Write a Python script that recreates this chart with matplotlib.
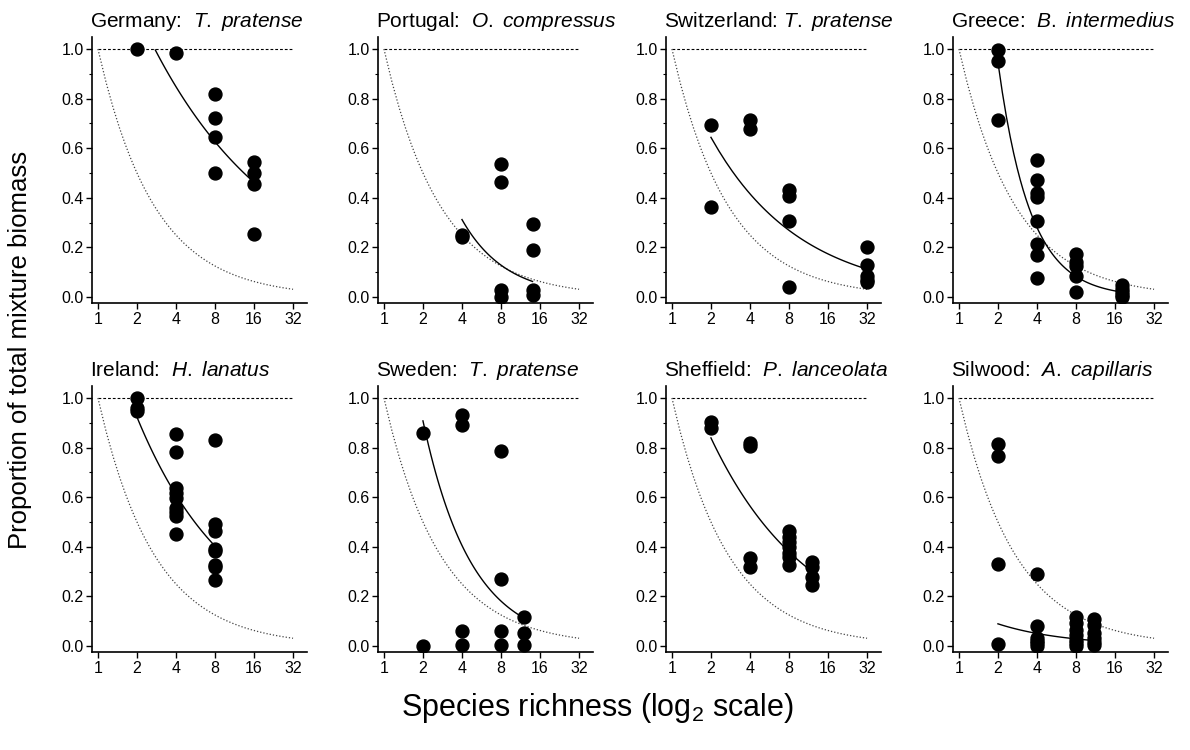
import matplotlib
matplotlib.use('Agg')
import matplotlib.pyplot as plt
import numpy as np

plt.rcParams['font.family'] = ['Liberation Sans', 'DejaVu Sans']
plt.rcParams['mathtext.fontset'] = 'custom'
plt.rcParams['mathtext.rm'] = 'Liberation Sans'
plt.rcParams['mathtext.it'] = 'Liberation Sans:italic'

sites = ['Germany', 'Portugal', 'Switzerland', 'Greece',
         'Ireland', 'Sweden', 'Sheffield', 'Silwood']
species = ['T. pratense', 'O. compressus', 'T. pratense', 'B. intermedius',
           'H. lanatus', 'T. pratense', 'P. lanceolata', 'A. capillaris']
seps = ['  ', '  ', ' ', '  ', '  ', '  ', '  ', '  ']

# observed proportions (richness, proportion)
germany_x = [2, 4, 8, 8, 8, 8, 16, 16, 16, 16]
germany_y = [1.0, 0.985, 0.818, 0.721, 0.644, 0.501, 0.546, 0.50, 0.457, 0.255]
portugal_x = [4, 4, 8, 8, 8, 8, 14, 14, 14, 14]
portugal_y = [0.25, 0.24, 0.538, 0.462, 0.03, 0.0, 0.294, 0.189, 0.03, 0.007]
swiss_x = [2, 2, 4, 4, 8, 8, 8, 8, 32, 32, 32, 32, 32]
swiss_y = [0.695, 0.364, 0.714, 0.679, 0.431, 0.407, 0.305, 0.04,
           0.202, 0.128, 0.085, 0.07, 0.06]
greece_x = [2, 2, 2, 4, 4, 4, 4, 4, 4, 4, 4, 8, 8, 8, 8, 8, 18, 18, 18, 18, 18]
greece_y = [0.995, 0.95, 0.712, 0.551, 0.47, 0.42, 0.404, 0.306, 0.213, 0.168, 0.078,
            0.172, 0.14, 0.125, 0.086, 0.02, 0.047, 0.034, 0.02, 0.01, 0.0]
ireland_x = [2, 2, 2, 4, 4, 4, 4, 4, 4, 4, 4, 4, 8, 8, 8, 8, 8, 8, 8, 8]
ireland_y = [1.0, 0.96, 0.946, 0.856, 0.783, 0.636, 0.616, 0.596, 0.556, 0.542, 0.525, 0.451,
             0.832, 0.49, 0.462, 0.393, 0.384, 0.327, 0.32, 0.266]
sweden_x = [2, 2, 4, 4, 4, 4, 8, 8, 8, 8, 12, 12, 12]
sweden_y = [0.859, 0.0, 0.933, 0.892, 0.059, 0.003, 0.787, 0.27, 0.059, 0.003,
            0.116, 0.054, 0.003]
sheffield_x = [2, 2, 4, 4, 4, 4, 8, 8, 8, 8, 8, 8, 8, 12, 12, 12, 12]
sheffield_y = [0.902, 0.879, 0.818, 0.807, 0.354, 0.32, 0.462, 0.441, 0.42, 0.40,
               0.374, 0.36, 0.327, 0.34, 0.318, 0.28, 0.246]
silwood_x = [2, 2, 2, 2, 4, 4, 4, 4, 4, 4, 8, 8, 8, 8, 8, 8, 8,
             11, 11, 11, 11, 11, 11]
silwood_y = [0.814, 0.767, 0.331, 0.007, 0.291, 0.082, 0.031, 0.02, 0.013, 0.0,
             0.116, 0.092, 0.065, 0.044, 0.024, 0.013, 0.0,
             0.109, 0.085, 0.051, 0.031, 0.015, 0.004]

# points
fit_xs = [[2.77, 8, 16], [4, 8, 14], [2, 11.6, 32], [2, 4, 18],
          [2, 4, 8], [2, 8, 12], [2, 8, 12], [2, 4, 11]]
fit_ys = [[1.0, 0.62, 0.465], [0.313, 0.128, 0.063], [0.636, 0.22, 0.11], [0.94, 0.283, 0.02],
          [0.926, 0.606, 0.404], [0.91, 0.179, 0.114], [0.842, 0.374, 0.305], [0.089, 0.051, 0.022]]

obs_x = [germany_x, portugal_x, swiss_x, greece_x, ireland_x, sweden_x, sheffield_x, silwood_x]
obs_y = [germany_y, portugal_y, swiss_y, greece_y, ireland_y, sweden_y, sheffield_y, silwood_y]

ticks = [1, 2, 4, 8, 16, 32]

fig = plt.figure(figsize=(11.9, 7.5), dpi=100)
lefts = [92, 378, 666, 953]
bottoms = [0.5957, 0.1304]

for i in range(8):
    r, c = divmod(i, 4)
    ax = fig.add_axes([lefts[c] / 1190, bottoms[r], 215 / 1190, 0.3555])
    ax.set_xscale('log', base=2)
    ax.set_xlim(0.9, 41)
    ax.set_ylim(-0.025, 1.05)

    # reference lines: monoculture (1.0) and equal share (1/n)
    ax.plot([1, 32], [1, 1], color='black', lw=0.8, ls=(0, (2.5, 1.8)))
    xx = np.linspace(1, 32, 200)
    ax.plot(xx, 1 / xx, color='#444444', lw=0.9, ls=(0, (1, 1.6)))

    # fitted curve (power law through read points)
    fx, fy = np.array(fit_xs[i]), np.array(fit_ys[i])
    b, a = np.polyfit(np.log(fx), np.log(fy), 1)
    cx = np.linspace(fx[0], fx[-1], 100)
    ax.plot(cx, np.exp(a) * cx ** b, color='black', lw=1.0)

    ax.plot(obs_x[i], obs_y[i], 'o', color='black', ms=9.3, mec='black', zorder=5)

    ax.set_xticks(ticks)
    ax.set_xticklabels([str(t) for t in ticks])
    ax.xaxis.set_minor_locator(matplotlib.ticker.NullLocator())
    ax.set_yticks([0, 0.2, 0.4, 0.6, 0.8, 1.0])
    ax.set_yticklabels(['0.0', '0.2', '0.4', '0.6', '0.8', '1.0'])
    ax.set_yticks(np.arange(0.1, 1.0, 0.2), minor=True)
    ax.tick_params(axis='both', which='major', labelsize=11.5, length=4, width=1, direction='out', pad=2)
    ax.tick_params(axis='y', which='minor', length=2.5, width=0.8)
    for s in ['top', 'right']:
        ax.spines[s].set_visible(False)
    for s in ['left', 'bottom']:
        ax.spines[s].set_linewidth(1.2)

    name = species[i].replace(' ', r'\ ')
    ax.set_title(sites[i] + ':' + seps[i] + r'$\mathit{' + name + '}$',
                 loc='left', fontsize=15, pad=7, x=-0.01)

fig.text(0.017, 0.533, 'Proportion of total mixture biomass', rotation=90,
         ha='center', va='center', fontsize=18.5)
fig.text(0.502, 0.056, r'Species richness (log$_2$ scale)', ha='center', va='center', fontsize=22)

fig.savefig('out.png', dpi=100)
